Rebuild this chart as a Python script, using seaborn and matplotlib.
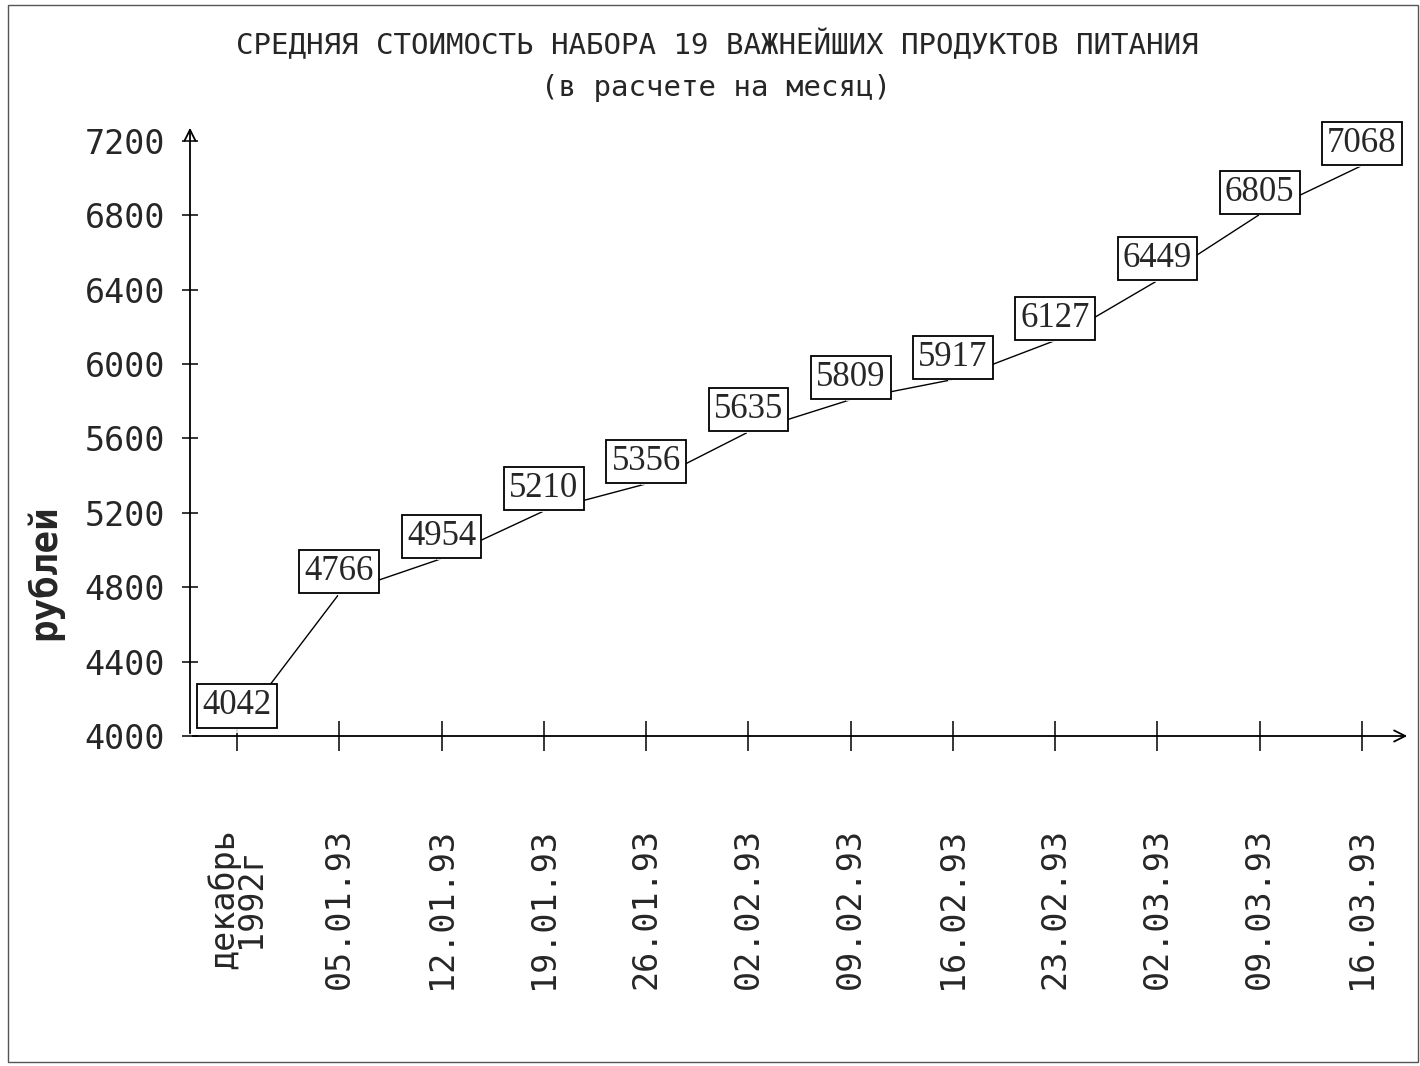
import numpy as np
import pandas as pd
import matplotlib
matplotlib.use('Agg')
import matplotlib.pyplot as plt
import seaborn as sns

dates = ['декабрь\n1992г', '05.01.93', '12.01.93', '19.01.93', '26.01.93', '02.02.93',
         '09.02.93', '16.02.93', '23.02.93', '02.03.93', '09.03.93', '16.03.93']
prices = [4042, 4766, 4954, 5210, 5356, 5635, 5809, 5917, 6127, 6449, 6805, 7068]
yticks = [4000, 4400, 4800, 5200, 5600, 6000, 6400, 6800, 7200]

sns.set_style('white')
plt.rcParams['font.family'] = ['DejaVu Sans Mono', 'DejaVu Sans']

df = pd.DataFrame({'idx': np.arange(len(prices)), 'price': prices})

fig = plt.figure(figsize=(14.2, 10.66), dpi=100)
ax = fig.add_axes([190 / 1420, 1 - 736 / 1066, 1220 / 1420, (736 - 125) / 1066])

sns.lineplot(data=df, x='idx', y='price', ax=ax, color='black', lw=1,
             marker='+', markersize=7, markeredgewidth=1.2)

for i, v in enumerate(prices):
    ax.annotate(str(v), (i, v), xytext=(0, 16), textcoords='offset points',
                ha='center', va='center', fontsize=25, family='Liberation Serif',
                bbox=dict(boxstyle='square,pad=0.15', fc='white', ec='black', lw=1.3))

ax.set_xlim(-0.46, 11.47)
ax.set_ylim(4000, 7286)
ax.set_yticks(yticks)
ax.set_yticklabels([str(t) for t in yticks], fontsize=24)
ax.set_xticks(range(len(dates)))
ax.set_xticklabels(dates, rotation=90, fontsize=24, va='top', ha='center', linespacing=0.75)
ax.tick_params(axis='x', direction='inout', length=22, width=1.3, pad=55, bottom=True)
ax.tick_params(axis='y', direction='inout', length=12, width=1.3, pad=12, left=True)
ax.set_xlabel('')
ax.set_ylabel('рублей', fontsize=27, fontweight='bold')
ax.yaxis.set_label_coords(-0.104, 0.268)

for s in ax.spines.values():
    s.set_visible(False)
ax.annotate('', xy=(0, 1.0), xytext=(0, 0), xycoords='axes fraction',
            arrowprops=dict(arrowstyle='->', lw=1.3, color='black', mutation_scale=20))
ax.annotate('', xy=(1.0, 0), xytext=(0, 0), xycoords='axes fraction',
            arrowprops=dict(arrowstyle='->', lw=1.3, color='black', mutation_scale=20))

fig.text(0.505, 1 - 45 / 1066, 'СРЕДНЯЯ СТОИМОСТЬ НАБОРА 19 ВАЖНЕЙШИХ ПРОДУКТОВ ПИТАНИЯ',
         ha='center', va='center', fontsize=21)
fig.text(0.504, 1 - 88 / 1066, '(в расчете на месяц)', ha='center', va='center', fontsize=21)

fig.patches.append(plt.Rectangle((8 / 1420, 4 / 1066), 1 - 10 / 1420, 1 - 9 / 1066,
                                 transform=fig.transFigure, fill=False, ec='#555555', lw=1))

fig.savefig('out.png', dpi=100)
